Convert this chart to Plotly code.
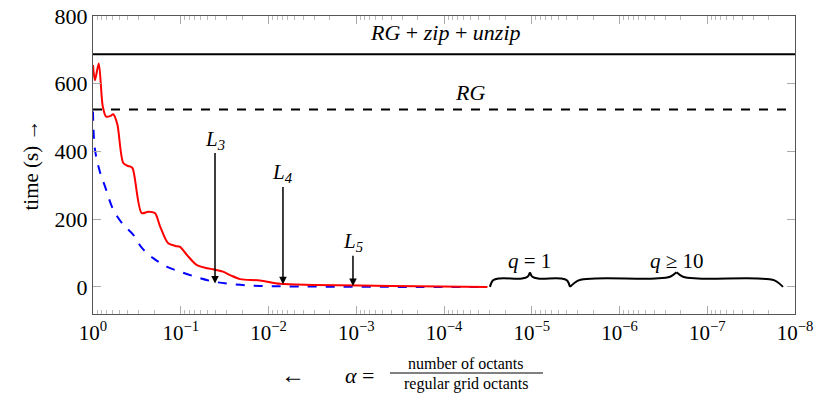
import numpy as np
import plotly.graph_objects as go

# red solid curve (ours) and blue dashed curve
red_alpha = [1.0, 0.95, 0.86, 0.775, 0.71, 0.63, 0.587, 0.528, 0.452, 0.40, 0.379, 0.353,
             0.279, 0.235, 0.197, 0.172, 0.139, 0.115, 0.102, 0.0855, 0.066, 0.05, 0.043,
             0.033, 0.027, 0.021, 0.0125, 0.0074, 0.0031, 0.0009, 0.0002, 0.000032]
red_time = [655, 610, 660, 534, 503, 505, 510, 480, 366, 357, 356, 350,
            218, 222, 218, 179, 129, 121, 118, 95, 65, 55, 52,
            45, 34, 23, 19, 9, 6, 4, 2, 0]

blue_alpha = [1.0, 0.95, 0.83, 0.73, 0.587, 0.452, 0.347, 0.279, 0.206, 0.145, 0.102,
              0.066, 0.043, 0.0254, 0.0125, 0.003, 0.0002, 0.000032]
blue_time = [518, 406, 338, 297, 228, 184, 154, 116, 85, 60, 45,
             29, 16, 8, 3, 1, 0, 0]

rg_zip_time = 687
rg_time = 524

level_names = ["L<sub>3</sub>", "L<sub>4</sub>", "L<sub>5</sub>"]
level_alpha = [0.0407, 0.00684, 0.00109]
level_top = [435, 335, 132]
level_tip = [10, 8, 3]

brace_names = ["<i>q</i> = 1", "<i>q</i> ≥ 10"]
brace_from = [3.0e-5, 3.66e-6]
brace_to = [3.66e-6, 1.37e-8]

x_ticks = [10.0 ** -k for k in range(9)]
x_ticktext = ["10<sup>0</sup>"] + ["10<sup>−%d</sup>" % k for k in range(1, 9)]
x_minor = [m * 10.0 ** -k for k in range(1, 9) for m in range(2, 10)]

serif = "Liberation Serif"

fig = go.Figure()

fig.add_trace(go.Scatter(x=[1, 1e-8], y=[rg_zip_time] * 2, mode="lines",
                         line=dict(color="black", width=2)))
fig.add_trace(go.Scatter(x=[1, 1e-8], y=[rg_time] * 2, mode="lines",
                         line=dict(color="black", width=2, dash="dash")))
fig.add_trace(go.Scatter(x=blue_alpha, y=blue_time, mode="lines",
                         line=dict(color="blue", width=2, dash="dash", shape="spline")))
fig.add_trace(go.Scatter(x=red_alpha, y=red_time, mode="lines",
                         line=dict(color="red", width=2, shape="spline", smoothing=0.8)))
# empty trace so the minor-tick axis gets drawn
fig.add_trace(go.Scatter(x=[1, 1e-8], y=[None, None], xaxis="x2", mode="lines",
                         hoverinfo="skip"))

# curly braces, built in log space between the two end points
for name, a0, a1 in zip(brace_names, brace_from, brace_to):
    u0, u1 = np.log10(a0), np.log10(a1)
    d = u1 - u0
    h = 43
    um = u0 + d / 2
    half = [(0, 0), (0.04, 0.45), (0.12, 0.58), (0.4, 0.58), (0.47, 0.7), (0.5, 1.0)]
    left = [(u0 + f * d, g * h) for f, g in half]
    right = [(u1 - f * d, g * h) for f, g in half]
    for pts in (left, right):
        fig.add_trace(go.Scatter(x=[10 ** p[0] for p in pts], y=[p[1] for p in pts],
                                 mode="lines", line=dict(color="black", width=2, shape="spline")))
    fig.add_annotation(x=um, y=76, text=name, showarrow=False,
                       font=dict(family=serif, size=21, color="black"))

for name, a, top, tip in zip(level_names, level_alpha, level_top, level_tip):
    fig.add_annotation(x=np.log10(a), y=tip, ax=np.log10(a), ay=top, axref="x", ayref="y",
                       text="<i>" + name + "</i>", showarrow=True, arrowhead=2, arrowsize=1,
                       arrowwidth=1.5, arrowcolor="black",
                       font=dict(family=serif, size=21, color="black"), borderpad=0)

fig.add_annotation(x=-4.02, y=750,
                   text="<i>RG</i> + <i>zip</i> + <i>unzip</i>", showarrow=False,
                   font=dict(family=serif, size=22, color="black"))
fig.add_annotation(x=-4.3, y=575, text="<i>RG</i>", showarrow=False,
                   font=dict(family=serif, size=22, color="black"))

# x axis title: arrow, alpha and a stacked fraction
title_parts = [(0.285, -0.205, "←", 24), (0.38, -0.205, "<i>α</i> =", 22),
               (0.532, -0.165, "number of octants", 16),
               (0.532, -0.236, "regular grid octants", 16)]
for px, py, txt, sz in title_parts:
    fig.add_annotation(xref="paper", yref="paper", x=px, y=py, text=txt, showarrow=False,
                       xanchor="center", yanchor="middle",
                       font=dict(family=serif, size=sz, color="black"))
fig.add_shape(type="line", xref="paper", yref="paper", x0=0.423, x1=0.641, y0=-0.198, y1=-0.198,
              line=dict(color="black", width=1))

fig.update_xaxes(type="log", range=[0, -8], tickmode="array", tickvals=x_ticks,
                 ticktext=x_ticktext, ticks="inside", ticklen=8, tickcolor="#aaa",
                 showline=True, linecolor="#555", linewidth=1, mirror="ticks",
                 showgrid=False, zeroline=False, automargin=False, ticklabeloverflow="allow",
                 tickfont=dict(family=serif, size=21, color="black"))
fig.update_yaxes(range=[-80, 800], tickvals=[0, 200, 400, 600, 800], ticks="inside",
                 ticklen=8, tickcolor="#aaa", showline=True, linecolor="#555", linewidth=1,
                 mirror="ticks", showgrid=False, zeroline=False, automargin=False,
                 ticklabeloverflow="allow",
                 tickfont=dict(family=serif, size=22, color="black"),
                 title=dict(text="time (s) →", font=dict(family=serif, size=21, color="black"),
                            standoff=10))

fig.update_layout(
    xaxis2=dict(type="log", range=[0, -8], overlaying="x", side="bottom",
                tickmode="array", tickvals=x_minor, ticks="inside", ticklen=4,
                tickcolor="#bbb", showticklabels=False, showline=False, mirror="ticks",
                showgrid=False, zeroline=False, automargin=False),
    width=821, height=392, showlegend=False,
    plot_bgcolor="white", paper_bgcolor="white",
    margin=dict(l=85, r=34, t=8, b=86))

fig.write_html("out.html")
